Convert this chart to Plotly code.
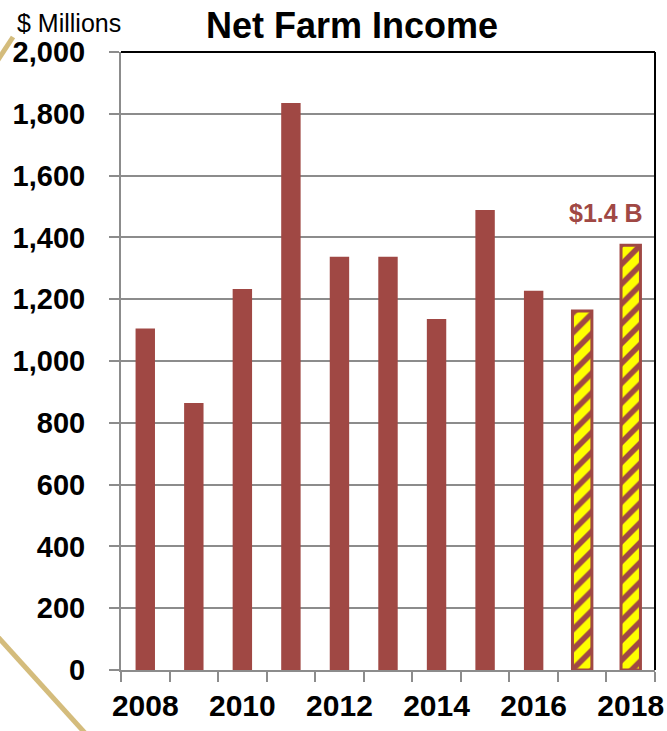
import plotly.graph_objects as go

years = [2008, 2009, 2010, 2011, 2012, 2013, 2014, 2015, 2016, 2017, 2018]
income = [1105, 864, 1233, 1835, 1337, 1337, 1136, 1489, 1227, 1162, 1375]
projected = [False] * 9 + [True, True]
y_ticks = list(range(0, 2001, 200))
x_label_years = [2008, 2010, 2012, 2014, 2016, 2018]

BAR = "#A04844"
ARIAL = "Liberation Sans, Arial, sans-serif"

W, H = 667, 731
L, R, T, B = 121, 12, 52, 61
pw, ph = W - L - R, H - T - B

def px(x):
    return (x - L) / pw

def py(y):
    return (H - B - y) / ph

act_x = [y for y, p in zip(years, projected) if not p]
act_v = [v for v, p in zip(income, projected) if not p]
prj_x = [y for y, p in zip(years, projected) if p]
prj_v = [v for v, p in zip(income, projected) if p]

fig = go.Figure()
fig.add_trace(go.Bar(x=act_x, y=act_v, width=0.4,
                     marker=dict(color=BAR, line=dict(width=0))))
fig.add_trace(go.Bar(x=prj_x, y=prj_v, width=0.4,
                     marker=dict(color="#FFFF00",
                                 line=dict(color=BAR, width=3),
                                 pattern=dict(shape="/", fgcolor=BAR, bgcolor="#FFFF00",
                                              fgopacity=1, size=14, solidity=0.4,
                                              fillmode="replace"))))

fig.update_layout(
    width=W, height=H,
    margin=dict(l=L, r=R, t=T, b=B, autoexpand=False),
    paper_bgcolor="white", plot_bgcolor="white",
    showlegend=False, barmode="overlay",
    font=dict(family=ARIAL, color="black"),
)
fig.update_xaxes(
    range=[2007.5, 2018.5], tickvals=x_label_years, ticktext=[str(v) for v in x_label_years],
    ticks="", showgrid=False, showline=True, linecolor="#8C8C8C", linewidth=2,
    tickfont=dict(family=ARIAL, size=30, color="black", weight="bold"),
    ticklabelstandoff=8, automargin=False, ticklabeloverflow="allow",
    minor=dict(tickvals=[2007.5 + i for i in range(12)], ticks="outside", ticklen=10,
               tickwidth=2, tickcolor="#8C8C8C", showgrid=False),
)
fig.update_yaxes(
    range=[0, 2000], tickvals=y_ticks, tickformat=",",
    ticks="outside", ticklen=10, tickwidth=2, tickcolor="#8C8C8C",
    showgrid=True, gridcolor="#8C8C8C", gridwidth=2,
    showline=True, linecolor="#8C8C8C", linewidth=2, zeroline=False,
    tickfont=dict(family=ARIAL, size=29, color="black", weight="bold"),
    ticklabelstandoff=18, automargin=False, ticklabeloverflow="allow",
)

# top and right black frame
fig.add_shape(type="line", xref="paper", yref="paper", x0=0, x1=1, y0=1, y1=1,
              line=dict(color="black", width=2))
fig.add_shape(type="line", xref="paper", yref="paper", x0=1, x1=1, y0=0, y1=1,
              line=dict(color="black", width=2))

# decorative gold strokes
fig.add_shape(type="line", xref="paper", yref="paper", x0=px(-2), y0=py(60), x1=px(13), y1=py(37),
              line=dict(color="#D4BC7C", width=5))
fig.add_shape(type="line", xref="paper", yref="paper", x0=px(-2), y0=py(637), x1=px(85), y1=py(733),
              line=dict(color="#D4BC7C", width=5))

fig.add_annotation(text="<b>Net Farm Income</b>", xref="paper", yref="paper",
                   x=px(352), y=py(25), xanchor="center", yanchor="middle",
                   showarrow=False, font=dict(family=ARIAL, size=36, color="black"))
fig.add_annotation(text="$ Millions", xref="paper", yref="paper",
                   x=px(15), y=py(23), xanchor="left", yanchor="middle",
                   showarrow=False, font=dict(family=ARIAL, size=25, color="black"))
fig.add_annotation(text="<b>$1.4 B</b>", x=2017.5, y=1480, xref="x", yref="y",
                   xanchor="center", yanchor="middle", showarrow=False,
                   font=dict(family=ARIAL, size=25, color=BAR))

fig.write_html("out.html", config={"displayModeBar": False},
               post_script="document.body.style.margin='0';document.body.style.overflow='hidden';")
